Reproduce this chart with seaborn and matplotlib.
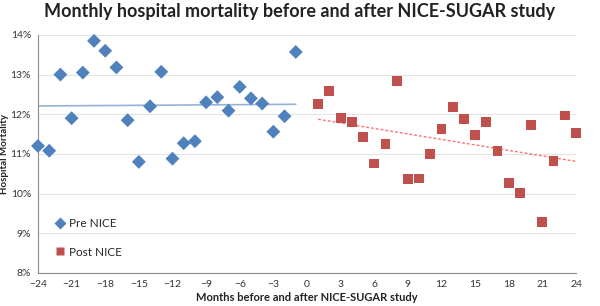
import numpy as np
import pandas as pd
import seaborn as sns
import matplotlib.pyplot as plt
from matplotlib.ticker import FuncFormatter, MultipleLocator

# Datos (mortalidad mensual en %)
meses_pre = list(range(-24, 0))
mort_pre = [11.20, 11.08, 13.00, 11.90, 13.05, 13.85, 13.60, 13.18, 11.85, 10.80,
            12.20, 13.07, 10.88, 11.27, 11.32, 12.30, 12.43, 12.09, 12.69, 12.40,
            12.27, 11.56, 11.95, 13.57]

meses_post = list(range(1, 25))
mort_post = [12.26, 12.58, 11.90, 11.80, 11.43, 10.76, 11.24, 12.84, 10.36, 10.38,
             10.99, 11.63, 12.19, 11.89, 11.48, 11.80, 11.07, 10.27, 10.02, 11.73,
             9.28, 10.82, 11.97, 11.52]

grupos = ['Pre NICE', 'Post NICE']
colores = {'Pre NICE': '#4F81BD', 'Post NICE': '#C0504D'}
marcadores = {'Pre NICE': 'D', 'Post NICE': 's'}

datos = pd.DataFrame({
    'Mes': meses_pre + meses_post,
    'Mortalidad': mort_pre + mort_post,
    'Grupo': ['Pre NICE'] * len(meses_pre) + ['Post NICE'] * len(meses_post),
})

sns.set_style('white')
plt.rcParams['font.family'] = ['Lato', 'DejaVu Sans']

fig = plt.figure(figsize=(6, 3.06), dpi=100)
ax = fig.add_axes([0.0633, 0.108, 0.8967, 0.778])

# Lineas de tendencia (regresion lineal de cada grupo)
pre = datos[datos['Grupo'] == 'Pre NICE']
post = datos[datos['Grupo'] == 'Post NICE']
sns.regplot(x='Mes', y='Mortalidad', data=pre, scatter=False, ci=None, ax=ax,
            line_kws={'color': '#95B3D7', 'lw': 1.2})
sns.regplot(x='Mes', y='Mortalidad', data=post, scatter=False, ci=None, ax=ax,
            line_kws={'color': '#FF7070', 'lw': 1.0, 'ls': (0, (2, 1.5))})

sns.scatterplot(x='Mes', y='Mortalidad', hue='Grupo', style='Grupo', data=datos,
                palette=colores, markers=marcadores, hue_order=grupos,
                style_order=grupos, s=50, edgecolor='none', clip_on=False,
                zorder=3, ax=ax)

ax.set_xlim(-24, 24)
ax.set_ylim(8, 14)
ax.xaxis.set_major_locator(MultipleLocator(3))
ax.yaxis.set_major_locator(MultipleLocator(1))
ax.yaxis.set_major_formatter(FuncFormatter(lambda v, p: f'{v:.0f}%'))
ax.grid(axis='y', color='#E3E3E3', lw=0.8)
ax.set_axisbelow(True)

for lado in ['top', 'right']:
    ax.spines[lado].set_visible(False)
for lado in ['left', 'bottom']:
    ax.spines[lado].set_color('#8C8C8C')
    ax.spines[lado].set_linewidth(0.8)
ax.tick_params(axis='both', labelsize=7.5, colors='#8C8C8C', labelcolor='#333333',
               length=3, width=0.8, direction='out')
ax.tick_params(axis='x', pad=2)
ax.tick_params(axis='y', pad=2)

ax.set_xlabel('Months before and after NICE-SUGAR study', fontsize=8,
              fontweight='bold', color='#222222', labelpad=2)
ax.set_ylabel('Hospital Mortality', fontsize=7, fontweight='bold', color='#222222')
ax.yaxis.set_label_coords(-0.054, 0.5)
fig.suptitle('Monthly hospital mortality before and after NICE-SUGAR study',
             fontsize=13, fontweight='bold', color='#222222', x=0.5, y=0.99)

ax.legend(loc='lower left', bbox_to_anchor=(0.01, 0.02), frameon=False,
          fontsize=8.5, labelspacing=1.5, handletextpad=0.3, handlelength=1.0,
          markerscale=0.85)

fig.savefig('out.png', dpi=100)
